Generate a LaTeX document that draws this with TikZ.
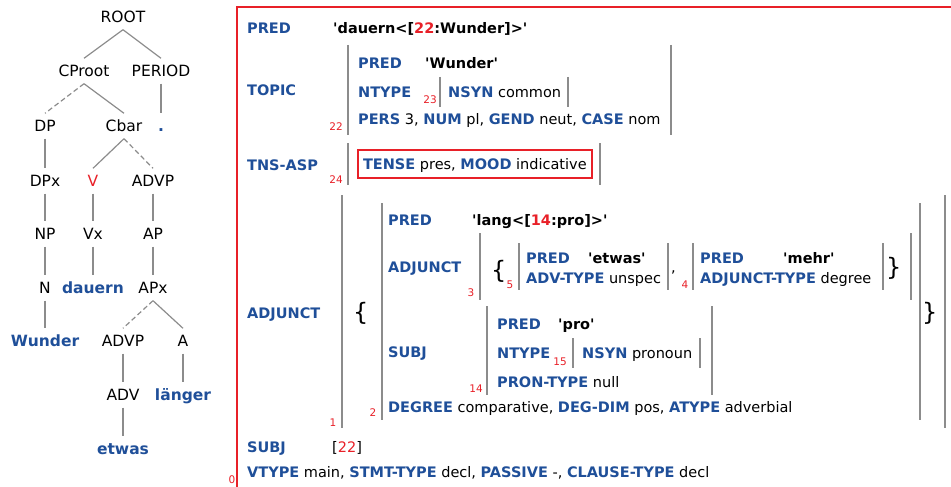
\documentclass[tikz,border=0pt]{standalone}
\usepackage{fontspec}
\setmainfont{DejaVu Sans}
\definecolor{fblue}{RGB}{31,79,153}
\definecolor{fred}{RGB}{232,32,40}
\definecolor{fgrey}{RGB}{140,140,140}
\newcommand\fattr[1]{\textcolor{fblue}{\bfseries #1}}
\newcommand\fidx[1]{\textcolor{fred}{#1}}
\newcommand\fq{\textquotesingle}

\begin{document}
\begin{tikzpicture}[x=1pt,y=-1pt]
\tikzstyle{tnode}=[inner ysep=7pt, inner xsep=0pt, text height=11pt, text depth=0pt,
    font=\fontsize{15.5}{18}\selectfont]
\tikzstyle{leaf}=[tnode, text=fblue, font=\fontsize{15.5}{18}\selectfont\bfseries]
\tikzstyle{branch}=[draw=fgrey, line width=1.2pt]
\tikzstyle{dashbranch}=[branch, dash pattern=on 5pt off 3pt]
\tikzstyle{fs}=[anchor=west, inner sep=0pt, text height=10.5pt, text depth=0pt,
    font=\fontsize{14.5}{17}\selectfont]
\tikzstyle{attr}=[fs, text=fblue, font=\fontsize{14.5}{17}\selectfont\bfseries]
\tikzstyle{sem}=[fs, font=\fontsize{14.5}{17}\selectfont\bfseries]
\tikzstyle{idx}=[inner sep=0pt, text=fred, font=\fontsize{10.5}{12}\selectfont]
\tikzstyle{bar}=[fgrey, line width=2.5pt]
\tikzstyle{brace}=[anchor=west, inner sep=0pt, font=\fontsize{24}{26}\selectfont]

\useasboundingbox (0,0) rectangle (951,487);

%% c-structure
\node[tnode] (root) at (123,17) {ROOT};
\node[tnode] (cproot) at (84,71) {CProot};
\node[tnode] (period) at (161,71) {PERIOD};
\node[tnode] (dp) at (45,126) {DP};
\node[tnode] (cbar) at (124,126) {Cbar};
\node[leaf] (dot) at (161,126) {.};
\node[tnode] (dpx) at (45,181) {DPx};
\node[tnode, text=fred] (v) at (93,181) {V};
\node[tnode] (advp) at (153,181) {ADVP};
\node[tnode] (np) at (45,234) {NP};
\node[tnode] (vx) at (93,234) {Vx};
\node[tnode] (ap) at (153,234) {AP};
\node[tnode] (n) at (45,288) {N};
\node[leaf] (dauern) at (93,288) {dauern};
\node[tnode] (apx) at (153,288) {APx};
\node[leaf] (wunder) at (45,341) {Wunder};
\node[tnode] (advpb) at (123,341) {ADVP};
\node[tnode] (a) at (183,341) {A};
\node[tnode] (adv) at (123,395) {ADV};
\node[leaf] (laenger) at (183,395) {länger};
\node[leaf] (etwas) at (123,449) {etwas};

\draw[branch] (root.south) -- (cproot.north);
\draw[branch] (root.south) -- (period.north);
\draw[dashbranch] (cproot.south) -- (dp.north);
\draw[branch] (cproot.south) -- (cbar.north);
\draw[branch] (period.south) -- (dot.north);
\draw[branch] (dp.south) -- (dpx.north);
\draw[branch] (cbar.south) -- (v.north);
\draw[dashbranch] (cbar.south) -- (advp.north);
\draw[branch] (dpx.south) -- (np.north);
\draw[branch] (v.south) -- (vx.north);
\draw[branch] (advp.south) -- (ap.north);
\draw[branch] (np.south) -- (n.north);
\draw[branch] (vx.south) -- (dauern.north);
\draw[branch] (ap.south) -- (apx.north);
\draw[branch] (n.south) -- (wunder.north);
\draw[dashbranch] (apx.south) -- (advpb.north);
\draw[branch] (apx.south) -- (a.north);
\draw[branch] (advpb.south) -- (adv.north);
\draw[branch] (a.south) -- (laenger.north);
\draw[branch] (adv.south) -- (etwas.north);

%% f-structure
\draw[fred, line width=2pt] (952,7) -- (237,7) -- (237,488);
\node[idx] (i0) at (232,480) {0};

\node[attr] (pred) at (247,28) {PRED};
\node[sem] (predv) at (333,28) {\fq dauern<[\fidx{22}:Wunder]>\fq};

% TOPIC
\node[attr] (topic) at (247,90) {TOPIC};
\draw[bar] (348,45) -- (348,135);
\draw[bar] (671,45) -- (671,135);
\node[idx] (i22) at (336,127) {22};
\node[attr] (tpred) at (358,63) {PRED};
\node[sem] (tpredv) at (425,63) {\fq Wunder\fq};
\node[attr] (tntype) at (358,92) {NTYPE};
\node[idx] (i23) at (430,100) {23};
\draw[bar] (440,77) -- (440,107);
\node[fs] (tnsyn) at (448,92) {\fattr{NSYN} common};
\draw[bar] (568,77) -- (568,107);
\node[fs] (tpers) at (358,119) {\fattr{PERS} 3, \fattr{NUM} pl, \fattr{GEND} neut, \fattr{CASE} nom};

% TNS-ASP
\node[attr] (tns) at (247,165) {TNS-ASP};
\draw[bar] (348,143) -- (348,185);
\draw[bar] (600,143) -- (600,185);
\node[idx] (i24) at (336,180) {24};
\node[fs, draw=fred, line width=2pt, inner xsep=5pt, inner ysep=8.5pt] (tense) at (357,164)
    {\fattr{TENSE} pres, \fattr{MOOD} indicative};

% ADJUNCT
\node[attr] (adj) at (247,313) {ADJUNCT};
\draw[bar] (342,195) -- (342,428);
\draw[bar] (945,195) -- (945,428);
\node[idx] (i1) at (333,423) {1};
\node[brace] (lb1) at (353,313) {\{};
\node[brace] (rb1) at (922,313) {\}};
\draw[bar] (382,203) -- (382,420);
\draw[bar] (920,203) -- (920,420);
\node[idx] (i2) at (373,413) {2};
\node[attr] (apred) at (388,220) {PRED};
\node[sem] (apredv) at (472,220) {\fq lang<[\fidx{14}:pro]>\fq};

% inner ADJUNCT
\node[attr] (aadj) at (388,267) {ADJUNCT};
\draw[bar] (480,233) -- (480,300);
\draw[bar] (911,233) -- (911,300);
\node[idx] (i3) at (471,293) {3};
\node[brace] (lb2) at (491,271) {\{};
\node[brace] (rb2) at (886,268) {\}};
\draw[bar] (519,243) -- (519,290);
\draw[bar] (668,243) -- (668,290);
\node[idx] (i5) at (510,285) {5};
\node[attr] (epred) at (526,258) {PRED};
\node[sem] (epredv) at (588,258) {\fq etwas\fq};
\node[fs] (eadv) at (526,278) {\fattr{ADV-TYPE} unspec};
\node[fs] (comma) at (671,267) {,};
\node[idx] (i4) at (685,285) {4};
\draw[bar] (693,243) -- (693,290);
\draw[bar] (883,243) -- (883,290);
\node[attr] (mpred) at (700,258) {PRED};
\node[sem] (mpredv) at (783,258) {\fq mehr\fq};
\node[fs] (madj) at (700,278) {\fattr{ADJUNCT-TYPE} degree};

% SUBJ of lang
\node[attr] (asubj) at (388,352) {SUBJ};
\draw[bar] (487,306) -- (487,395);
\draw[bar] (712,306) -- (712,395);
\node[idx] (i14) at (476,389) {14};
\node[attr] (ppred) at (497,324) {PRED};
\node[sem] (ppredv) at (558,324) {\fq pro\fq};
\node[attr] (pntype) at (497,353) {NTYPE};
\node[idx] (i15) at (560,362) {15};
\draw[bar] (573,338) -- (573,368);
\draw[bar] (700,338) -- (700,368);
\node[fs] (pnsyn) at (582,353) {\fattr{NSYN} pronoun};
\node[fs] (pron) at (497,382) {\fattr{PRON-TYPE} null};
\node[fs] (adeg) at (388,407) {\fattr{DEGREE} comparative, \fattr{DEG-DIM} pos, \fattr{ATYPE} adverbial};

% SUBJ and the rest
\node[attr] (subj) at (247,447) {SUBJ};
\node[fs] (subjv) at (332,447) {[\fidx{22}]};
\node[fs] (vtype) at (247,472) {\fattr{VTYPE} main, \fattr{STMT-TYPE} decl, \fattr{PASSIVE} -, \fattr{CLAUSE-TYPE} decl};
\end{tikzpicture}
\end{document}
